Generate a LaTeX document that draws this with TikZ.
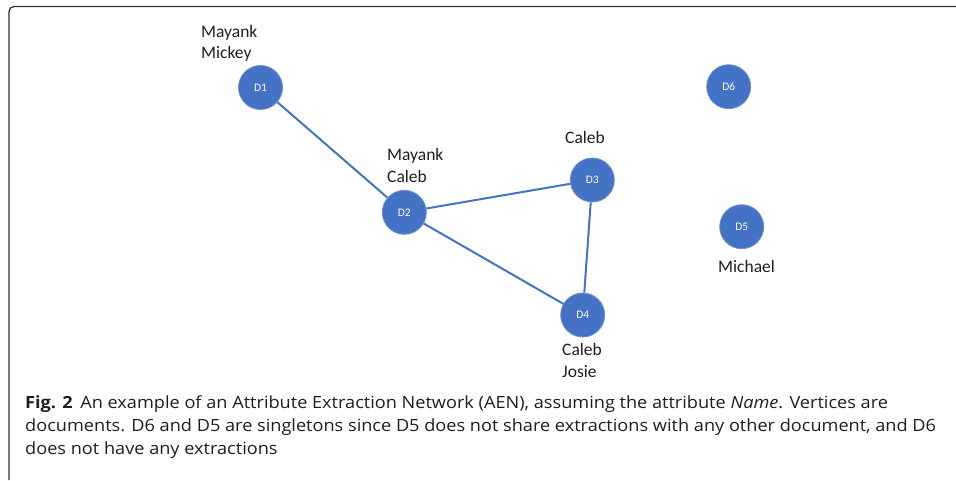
\documentclass[tikz,border=0pt]{standalone}
\usepackage{fontspec}
\setmainfont{Carlito}
\newfontfamily\capfont[FakeStretch=1.08]{Open Sans}
\definecolor{nodeblue}{HTML}{4472C4}
\definecolor{framegray}{HTML}{333333}
\definecolor{txt}{HTML}{1E1E1E}
\begin{document}
\begin{tikzpicture}[x=1pt,y=-1pt,
  doc/.style={circle,fill=nodeblue,draw=nodeblue!80!white,line width=0.8pt,minimum size=44pt,inner sep=0pt,text=white,font=\fontsize{11.5}{12}\selectfont},
  lbl/.style={anchor=base west,align=left,inner sep=0pt,text=txt,font=\fontsize{17.5}{21.7}\selectfont},
  link/.style={nodeblue,line width=2pt},
  capstyle/.style={anchor=base west,align=left,inner sep=0pt,text=txt,font=\capfont\fontsize{16.8}{22.8}\selectfont}]
\useasboundingbox (0,0) rectangle (956,480);
\draw[framegray,line width=1.3pt,rounded corners=5pt] (9,480) -- (9,6.5) -- (960,6.5);

\node[doc] (d1) at (260.5,87.5) {D1};
\node[doc] (d2) at (404.3,212.3) {D2};
\node[doc] (d3) at (592.3,180) {D3};
\node[doc] (d4) at (582.7,315) {D4};
\node[doc] (d5) at (741.7,226.7) {D5};
\node[doc] (d6) at (728.7,86.7) {D6};

\draw[link] (d1) -- (d2);
\draw[link] (d2) -- (d3);
\draw[link] (d2) -- (d4);
\draw[link] (d3) -- (d4);

% anchor = baseline of the last line
\node[lbl] (l1) at (201,58.7) {Mayank\\Mickey};
\node[lbl] (l2) at (387,182.5) {Mayank\\Caleb};
\node[lbl] (l3) at (565,143) {Caleb};
\node[lbl] (l4) at (562,377.2) {Caleb\\Josie};
\node[lbl] (l5) at (718,272.5) {Michael};

\node[capstyle] (cap) at (25,454) {\textbf{Fig. 2}\hspace{0.45em}An example of an Attribute Extraction Network (AEN), assuming the attribute \textit{Name}. Vertices are\\documents. D6 and D5 are singletons since D5 does not share extractions with any other document, and D6\\does not have any extractions};
\end{tikzpicture}
\end{document}
